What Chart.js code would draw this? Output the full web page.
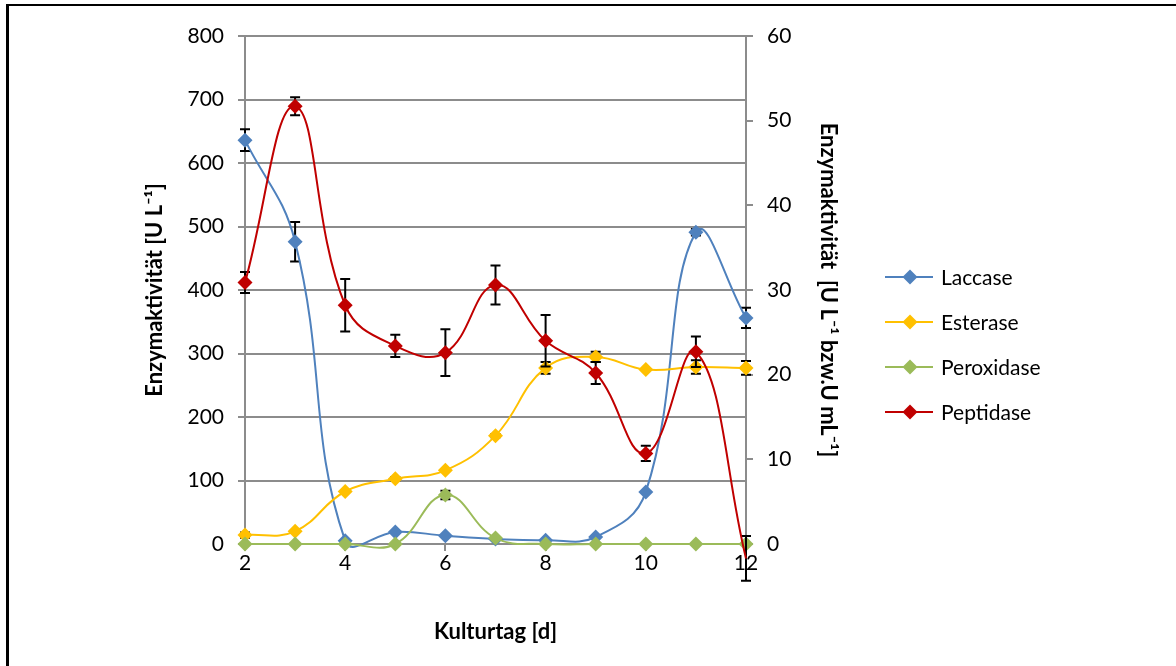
<!DOCTYPE html>
<html>
<head>
<meta charset="utf-8">
<script src="https://cdn.jsdelivr.net/npm/chart.js@4"></script>
<style>
  html, body { margin: 0; padding: 0; background: #fff; overflow: hidden; }
  #wrap { position: relative; width: 1176px; height: 666px; }
  #frame { position: absolute; left: 6px; top: 4px; width: 1300px; height: 800px;
           border-left: 3px solid #000; border-top: 2px solid #000; }
  canvas { position: absolute; left: 0; top: 0; }
</style>
</head>
<body>
<div id="wrap">
  <div id="frame"></div>
  <canvas id="chart" width="1176" height="666"></canvas>
</div>
<script>
// Kulturtag [d]
var days = [2, 3, 4, 5, 6, 7, 8, 9, 10, 11, 12];
// Laccase, left axis [U L-1]
var laccase    = [636, 476, 5, 19, 13, 8, 6, 11, 82, 491, 356];
var laccaseErr = [17, 31, 0, 0, 0, 0, 0, 0, 0, 5, 16];
// others, right axis [U mL-1]
var esterase    = [1.05, 1.5, 6.2, 7.7, 8.7, 12.8, 20.8, 22.1, 20.6, 20.9, 20.8];
var esteraseErr = [0.3, 0, 0, 0.2, 0, 0.2, 0.7, 0.6, 0, 0.8, 0.8];
var peroxidase    = [0, 0, 0, 0, 5.8, 0.7, 0, 0, 0, 0, 0];
var peroxidaseErr = [0, 0, 0, 0, 0.5, 0, 0, 0, 0, 0, 0];
var peptidase    = [30.9, 51.7, 28.2, 23.4, 22.6, 30.6, 24.0, 20.2, 10.7, 22.7, -1.7];
var peptidaseErr = [1.24, 1.06, 3.1, 1.3, 2.75, 2.3, 3.05, 1.3, 0.9, 1.8, 2.65];

var leftTicks = [0, 100, 200, 300, 400, 500, 600, 700, 800];
var rightTicks = [0, 10, 20, 30, 40, 50, 60];
var xTicks = [2, 4, 6, 8, 10, 12];

var FONT = "Lato, 'Open Sans', sans-serif";
var GRID = '#8c8c8c';

function pts(vals) {
  return vals.map(function (v, i) { return { x: days[i], y: v }; });
}

function series(label, vals, errs, color, axis, order) {
  return {
    label: label,
    data: pts(vals),
    errors: errs,
    yAxisID: axis,
    borderColor: color,
    backgroundColor: color,
    borderWidth: 2,
    pointStyle: 'rectRot',
    pointRadius: function (ctx) { return ctx.raw && ctx.raw.y < 0 ? 0 : 7.5; },
    pointBorderWidth: 0,
    tension: 0.42,
    clip: false,
    order: order
  };
}

// error bars, drawn just under each series
var errorBars = {
  id: 'errorBars',
  beforeDatasetDraw: function (chart, args) {
    var ds = chart.data.datasets[args.index];
    if (!ds.errors) return;
    var ctx = chart.ctx;
    var xs = chart.scales.x, ys = chart.scales[ds.yAxisID];
    ctx.save();
    ctx.strokeStyle = '#000';
    ctx.lineWidth = 2;
    ds.data.forEach(function (p, i) {
      var e = ds.errors[i];
      if (!e) return;
      var px = xs.getPixelForValue(p.x);
      var top = ys.getPixelForValue(p.y + e);
      var bot = ys.getPixelForValue(p.y - e);
      ctx.beginPath();
      ctx.moveTo(px, top); ctx.lineTo(px, bot);
      ctx.moveTo(px - 5, top); ctx.lineTo(px + 5, top);
      ctx.moveTo(px - 5, bot); ctx.lineTo(px + 5, bot);
      ctx.stroke();
    });
    ctx.restore();
  }
};

// Excel style legend: line with diamond
var sideLegend = {
  id: 'sideLegend',
  afterDraw: function (chart) {
    var ctx = chart.ctx;
    ctx.save();
    chart.data.datasets.forEach(function (ds, i) {
      var y = 277 + i * 45;
      ctx.strokeStyle = ds.borderColor;
      ctx.lineWidth = 2;
      ctx.beginPath(); ctx.moveTo(885, y); ctx.lineTo(933, y); ctx.stroke();
      ctx.fillStyle = ds.backgroundColor;
      ctx.beginPath();
      ctx.moveTo(910, y - 7.5); ctx.lineTo(917.5, y); ctx.lineTo(910, y + 7.5); ctx.lineTo(902.5, y);
      ctx.closePath(); ctx.fill();
      ctx.fillStyle = '#000';
      ctx.font = '21px ' + FONT;
      ctx.textBaseline = 'middle';
      ctx.fillText(ds.label, 941, y + 1);
    });
    ctx.restore();
  }
};

new Chart(document.getElementById('chart'), {
  type: 'line',
  data: {
    datasets: [
      series('Laccase', laccase, laccaseErr, '#4F81BD', 'y', 4),
      series('Esterase', esterase, esteraseErr, '#FFC000', 'y1', 3),
      series('Peroxidase', peroxidase, peroxidaseErr, '#9BBB59', 'y1', 2),
      series('Peptidase', peptidase, peptidaseErr, '#C00000', 'y1', 1)
    ]
  },
  options: {
    responsive: false,
    animation: false,
    layout: { padding: { left: 0, top: 36, right: 320, bottom: 0 } },
    elements: { line: { capBezierPoints: false } },
    plugins: { legend: { display: false }, tooltip: { enabled: false } },
    scales: {
      x: {
        type: 'linear', min: 2, max: 12,
        afterBuildTicks: function (s) { s.ticks = xTicks.map(function (v) { return { value: v }; }); },
        afterFit: function (s) { s.height = 122; },
        grid: { drawOnChartArea: false, drawTicks: true, tickLength: 7, color: GRID, lineWidth: 2 },
        border: { color: GRID, width: 2 },
        ticks: { color: '#000', font: { family: FONT, size: 21 }, padding: 0, maxRotation: 0 },
        title: { display: true, text: 'Kulturtag [d]', color: '#000',
                 font: { family: FONT, size: 22, weight: 'bold' }, padding: { top: 0, bottom: 21 } }
      },
      y: {
        position: 'left', min: 0, max: 800,
        afterBuildTicks: function (s) { s.ticks = leftTicks.map(function (v) { return { value: v }; }); },
        afterFit: function (s) { s.width = 245; },
        grid: { color: GRID, lineWidth: 2, tickLength: 7 },
        border: { color: GRID, width: 2 },
        ticks: { color: '#000', font: { family: FONT, size: 21 }, padding: 14 },
        title: { display: true, text: 'Enzymaktivität [U L⁻¹]', color: '#000',
                 font: { family: FONT, size: 22, weight: 'bold' }, padding: { top: 142, bottom: 0 } }
      },
      y1: {
        position: 'right', min: 0, max: 60,
        afterBuildTicks: function (s) { s.ticks = rightTicks.map(function (v) { return { value: v }; }); },
        afterFit: function (s) { s.width = 110; },
        grid: { drawOnChartArea: false, color: GRID, lineWidth: 2, tickLength: 7 },
        border: { color: GRID, width: 2 },
        ticks: { color: '#000', font: { family: FONT, size: 21 }, padding: 14 },
        title: { display: true, text: 'Enzymaktivität  [U L⁻¹ bzw.U mL⁻¹]', color: '#000',
                 font: { family: FONT, size: 22, weight: 'bold' }, padding: { top: 15, bottom: 0 } }
      }
    }
  },
  plugins: [errorBars, sideLegend]
});
</script>
</body>
</html>
